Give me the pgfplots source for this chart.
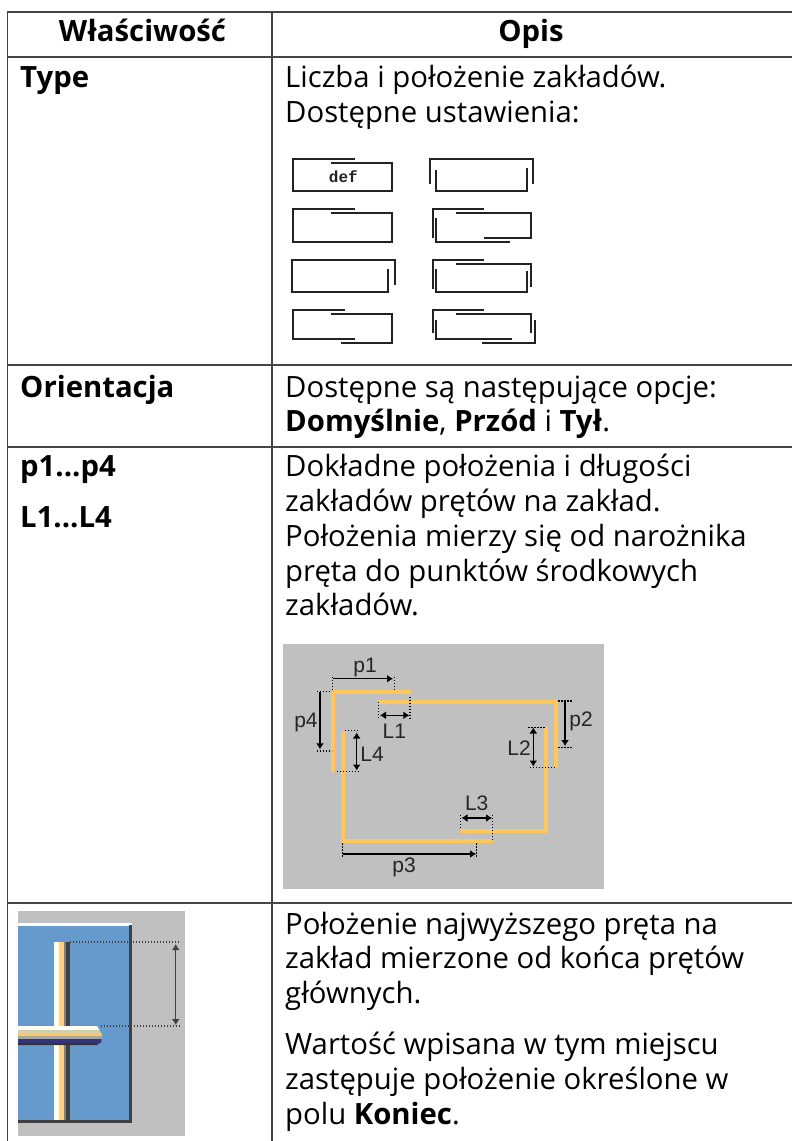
\documentclass[border=0pt]{standalone}
\usepackage{pgfplots}
\pgfplotsset{compat=1.18}
\usepackage{fontspec}
\setmainfont{Open Sans}
\newfontfamily\diagfont{Liberation Sans}
\newfontfamily\monofont{Liberation Mono}
\usetikzlibrary{arrows.meta}
\definecolor{tline}{HTML}{444444}
\definecolor{icon}{HTML}{222222}
\definecolor{panel}{HTML}{C0C0C0}
\definecolor{rebar}{HTML}{FFC65A}
\definecolor{plate}{HTML}{6699CC}
\newcommand{\T}[4][]{\node[anchor=base west,inner sep=0pt,font=\fontsize{29.3}{29.3}\selectfont,#1] at (axis cs:#2,#3) {#4};}
\newcommand{\D}[3]{\node[anchor=center,inner sep=0pt,text=black!85,font=\diagfont\fontsize{21}{21}\selectfont] at (axis cs:#1,#2) {#3};}
\tikzset{ic/.style={icon,line width=1.9pt},
 ln/.style={tline,line width=1.7pt},
 rb/.style={rebar,line width=3.6pt},
 dt/.style={black,line width=1.3pt,dash pattern=on 1.3pt off 1.7pt},
 ar/.style={black,line width=1.2pt,{Latex[length=6pt,width=8pt]}-{Latex[length=6pt,width=8pt]}},
 ao/.style={black,line width=1.2pt,-{Latex[length=6pt,width=8pt]}}}
\begin{document}
\begin{tikzpicture}
\begin{axis}[scale only axis,width=792pt,height=1141pt,xmin=0,xmax=792,ymin=0,ymax=1141,y dir=reverse,axis lines=none,clip=true,no markers]
\addplot[fill=white,draw=none] coordinates {(0,0)(792,0)(792,1141)(0,1141)} --cycle;
% table rules
\addplot[ln] coordinates {(7.5,1141)(7.5,12)(792,12)};
\addplot[ln] coordinates {(272,12)(272,1141)};
\addplot[ln] coordinates {(7.5,57)(792,57)};
\addplot[ln] coordinates {(7.5,365.3)(792,365.3)};
\addplot[ln] coordinates {(7.5,446.7)(792,446.7)};
\addplot[ln] coordinates {(7.5,902.7)(792,902.7)};
% icons left
\addplot[ic] coordinates {(331,163)(392.3,163)(392.3,191.3)(293.3,191.3)(293.3,159)(355.3,159)};
\addplot[ic] coordinates {(331,213.3)(392.3,213.3)(392.3,242)(293.3,242)(293.3,209.3)(355.3,209.3)};
\addplot[ic] coordinates {(388.3,269.3)(388.3,292.3)(291.7,292.3)(291.7,259.7)(394.7,259.7)(394.7,285)};
\addplot[ic] coordinates {(331,313.7)(392.3,313.7)(392.3,342.7)(341.3,342.7)};
\addplot[ic] coordinates {(355.3,338.7)(293.3,338.7)(293.3,310.3)(345.3,310.3)};
% icons right
\addplot[ic] coordinates {(436,170)(436,191.3)(527,191.3)(527,168)};
\addplot[ic] coordinates {(430,184)(430,159)(533.3,159)(533.3,184)};
\addplot[ic] coordinates {(455.7,213.3)(531.3,213.3)(531.3,237.7)(483.7,237.7)};
\addplot[ic] coordinates {(509.7,242)(436,242)(436,218.3)};
\addplot[ic] coordinates {(432.7,238.3)(432.7,209.3)(483.7,209.3)};
\addplot[ic] coordinates {(455.7,264)(531.3,264)(531.3,287)};
\addplot[ic] coordinates {(527,271.3)(527,292.3)(436,292.3)(436,269.3)};
\addplot[ic] coordinates {(432.7,289)(432.7,260)(483.7,260)};
\addplot[ic] coordinates {(455.7,314)(531.3,314)(531.3,333.3)};
\addplot[ic] coordinates {(535,320)(535,342.7)(482,342.7)};
\addplot[ic] coordinates {(512,338.7)(436,338.7)(436,320)};
\addplot[ic] coordinates {(432.7,333.3)(432.7,310.3)(483.7,310.3)};
\node[inner sep=0pt,text=icon,font=\monofont\bfseries\fontsize{16}{16}\selectfont] at (axis cs:343.3,176.5) {def};
% diagram panel
\addplot[fill=panel,draw=none] coordinates {(283.3,644)(604,644)(604,889)(283.3,889)} --cycle;
\addplot[rb] coordinates {(333,772.3)(333,691.7)(411.3,691.7)};
\addplot[rb] coordinates {(377.7,702)(556,702)(556,768.3)};
\addplot[rb] coordinates {(545.7,726.7)(545.7,831)(460,831)};
\addplot[rb] coordinates {(493.3,841)(342.7,841)(342.7,730.7)};
\addplot[dt] coordinates {(332.3,690)(332.3,675)};
\addplot[dt] coordinates {(394.3,690)(394.3,675)};
\addplot[dt] coordinates {(316.7,691.3)(331.7,691.3)};
\addplot[dt] coordinates {(316.7,751)(331.7,751)};
\addplot[dt] coordinates {(378.3,702)(378.3,718.3)};
\addplot[dt] coordinates {(410,696.7)(410,718.3)};
\addplot[dt] coordinates {(558.3,701)(572,701)};
\addplot[dt] coordinates {(558.3,747.3)(572,747.3)};
\addplot[dt] coordinates {(528.3,727.3)(545.7,727.3)};
\addplot[dt] coordinates {(530,767.3)(555,767.3)};
\addplot[dt] coordinates {(345,730.7)(359.3,730.7)};
\addplot[dt] coordinates {(336.7,771.3)(359.3,771.3)};
\addplot[dt] coordinates {(460.7,815)(460.7,830)};
\addplot[dt] coordinates {(492.3,815)(492.3,840)};
\addplot[dt] coordinates {(342.3,843.3)(342.3,856.7)};
\addplot[dt] coordinates {(476.7,843.3)(476.7,856.7)};
\addplot[ao] coordinates {(333,678.7)(393,678.7)};
\addplot[ao] coordinates {(320,691.7)(320,749.3)};
\addplot[ar] coordinates {(380,715.3)(409.3,715.3)};
\addplot[ao] coordinates {(565,702)(565,746)};
\addplot[ar] coordinates {(533.3,727.5)(533.3,766.5)};
\addplot[ar] coordinates {(356.7,732.5)(356.7,770.5)};
\addplot[ar] coordinates {(461.5,818)(492,818)};
\addplot[ao] coordinates {(343,854)(476,854)};
\D{365}{667}{p1}\D{306}{722}{p4}\D{394.3}{731}{L1}\D{581}{721}{p2}\D{519}{748}{L2}\D{372}{754}{L4}\D{476.7}{803}{L3}\D{404}{867}{p3}
% photo panel
\addplot[fill=panel,draw=none] coordinates {(18,911)(185,911)(185,1135.7)(18,1135.7)} --cycle;
\addplot[fill=plate,draw=none] coordinates {(18,926)(130,926)(130,1120)(18,1120)} --cycle;
\addplot[white,line width=3pt] coordinates {(18,924.7)(132,924.7)};
\addplot[black!75,line width=3pt] coordinates {(130.7,925)(130.7,1122.5)};
\addplot[black!75,line width=3pt] coordinates {(18,1121)(132,1121)};
\addplot[fill=white!95!yellow,draw=none] coordinates {(54.3,941.7)(59.3,941.7)(59.3,1120)(54.3,1120)} --cycle;
\addplot[fill=rebar!80!white,draw=none] coordinates {(59.3,941.7)(64,941.7)(64,1120)(59.3,1120)} --cycle;
\addplot[fill=black!50,draw=none] coordinates {(64,941.7)(66,941.7)(66,1120)(64,1120)} --cycle;
\addplot[fill=black!75,draw=none] coordinates {(66,941.7)(70,941.7)(70,1120)(66,1120)} --cycle;
\addplot[fill=white!95!yellow,draw=none] coordinates {(18,1026)(97,1026)(99.5,1030)(18,1030)} --cycle;
\addplot[fill=yellow!30!gray!60!white,draw=none] coordinates {(18,1030)(99.5,1030)(101.7,1034)(18,1034)} --cycle;
\addplot[fill=rebar,draw=none] coordinates {(18,1034)(101.7,1034)(101.7,1035.5)(18,1035.5)} --cycle;
\addplot[fill=gray!70,draw=none] coordinates {(18,1035.5)(101.7,1035.5)(101.7,1039)(18,1039)} --cycle;
\addplot[fill=blue!35!black!80,draw=none] coordinates {(18,1039)(101.7,1039)(101,1043)(18,1043)} --cycle;
\addplot[fill=black!80,draw=none] coordinates {(18,1043)(99,1043)(97,1045)(18,1045)} --cycle;
\addplot[black!75,line width=1.2pt,dash pattern=on 1.3pt off 1.7pt] coordinates {(70,942)(179,942)};
\addplot[black!75,line width=1.2pt,dash pattern=on 1.3pt off 1.7pt] coordinates {(100.7,1026)(179,1026)};
\addplot[black!75,line width=1.2pt,{Latex[length=6pt,width=8pt]}-{Latex[length=6pt,width=8pt]}] coordinates {(175.7,944)(175.7,1025)};
% text
\node[inner sep=0pt,anchor=base,font=\bfseries\fontsize{29.3}{29.3}\selectfont] at (axis cs:142.5,41.7) {Właściwość};
\node[inner sep=0pt,anchor=base,font=\bfseries\fontsize{29.3}{29.3}\selectfont] at (axis cs:531,41.7) {Opis};
\T[font=\bfseries\fontsize{29.3}{29.3}\selectfont]{20}{87.3}{Type}
\T{285}{87.3}{Liczba i położenie zakładów.}
\T{285}{122.3}{Dostępne ustawienia:}
\T[font=\bfseries\fontsize{29.3}{29.3}\selectfont]{20}{397}{Orientacja}
\T{285}{397}{Dostępne są następujące opcje:}
\T{285}{431.8}{\textbf{Domyślnie}, \textbf{Przód} i \textbf{Tył}.}
\T[font=\bfseries\fontsize{29.3}{29.3}\selectfont]{20}{476.7}{p1...p4}
\T[font=\bfseries\fontsize{29.3}{29.3}\selectfont]{20}{527.7}{L1...L4}
\T{285}{476.7}{Dokładne położenia i długości}
\T{285}{511.5}{zakładów prętów na zakład.}
\T{285}{546.3}{Położenia mierzy się od narożnika}
\T{285}{581.1}{pręta do punktów środkowych}
\T{285}{615.9}{zakładów.}
\T{285}{934}{Położenie najwyższego pręta na}
\T{285}{968.8}{zakład mierzone od końca prętów}
\T{285}{1003.6}{głównych.}
\T{285}{1054}{Wartość wpisana w tym miejscu}
\T{285}{1089}{zastępuje położenie określone w}
\T{285}{1124}{polu \textbf{Koniec}.}
\end{axis}
\end{tikzpicture}
\end{document}
